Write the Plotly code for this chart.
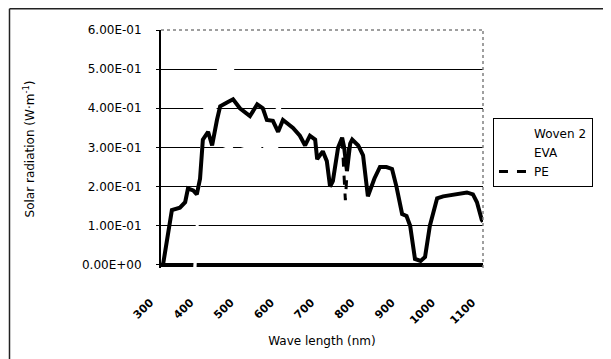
import plotly.graph_objects as go

# ---- data ----
pe_x = [300, 305, 327, 347, 360, 367, 380, 389, 397, 404, 417, 427, 439, 447, 464, 479,
        496, 521, 539, 553, 563, 578, 591, 603, 628, 645, 658, 670, 683, 688, 702, 712,
        720, 727, 740, 750, 755, 762, 770, 775, 790, 802, 814, 830, 844, 860, 874, 885,
        899, 910, 919, 931, 945, 956, 968, 986, 1001, 1020, 1035, 1060, 1075, 1085, 1097, 1100]
pe_y = [0.0, 0.0, 0.14, 0.146, 0.16, 0.195, 0.19, 0.18, 0.22, 0.32, 0.34, 0.305, 0.37, 0.405,
        0.415, 0.423, 0.40, 0.38, 0.41, 0.40, 0.37, 0.368, 0.34, 0.37, 0.35, 0.33, 0.305,
        0.33, 0.32, 0.27, 0.29, 0.265, 0.20, 0.214, 0.30, 0.325, 0.30, 0.24, 0.31, 0.32,
        0.305, 0.28, 0.175, 0.22, 0.25, 0.25, 0.245, 0.20, 0.13, 0.125, 0.10, 0.015, 0.01,
        0.02, 0.10, 0.17, 0.175, 0.178, 0.18, 0.185, 0.18, 0.16, 0.115, 0.11]
pe_dip_x = [750, 758, 766]
pe_dip_y = [0.32, 0.165, 0.30]

woven2_x = [385, 392, 400, 408, 420, 435, 442, 455, 465, 478, 482, 520, 560, 588, 595, 600]
woven2_y = [-0.01, 0.15, 0.30, 0.40, 0.401, 0.399, 0.50, 0.501, 0.499, 0.50, 0.49, 0.46,
            0.43, 0.401, 0.399, 0.39]

eva_x = [383, 395, 405, 440, 466, 475, 480, 513, 530, 546, 550, 558, 575, 588, 592, 600]
eva_y = [-0.01, 0.20, 0.29, 0.29, 0.30, 0.301, 0.29, 0.30, 0.301, 0.30, 0.29, 0.30, 0.301,
         0.30, 0.29, 0.28]

y_ticks = [0.0, 0.1, 0.2, 0.3, 0.4, 0.5, 0.6]
y_labels = ["0.00E+00", "1.00E-01", "2.00E-01", "3.00E-01", "4.00E-01", "5.00E-01", "6.00E-01"]
x_ticks = [300, 400, 500, 600, 700, 800, 900, 1000, 1100]
x_labels = ["300", "400", "500", "600", "700", "800", "900", "1000", "1100"]

FONT = "DejaVu Sans"
pad = "\u00a0" * 4

fig = go.Figure()
fig.add_trace(go.Scatter(x=woven2_x, y=woven2_y, mode="lines", name="Woven 2",
                         line=dict(color="white", width=2.5)))
fig.add_trace(go.Scatter(x=eva_x, y=eva_y, mode="lines", name="EVA",
                         line=dict(color="white", width=2.5)))
fig.add_trace(go.Scatter(x=pe_x, y=pe_y, mode="lines", name="PE", showlegend=False,
                         legendgroup="pe", line=dict(color="black", width=4)))
fig.add_trace(go.Scatter(x=pe_dip_x, y=pe_dip_y, mode="lines", name="PE",
                         legendgroup="pe", line=dict(color="black", width=3, dash="dash")))

# page body has an 8px margin, so the figure is offset by (8, 8)
fig.update_layout(
    width=603, height=351,
    margin=dict(l=153, r=128, t=22, b=91, autoexpand=False),
    paper_bgcolor="white", plot_bgcolor="white",
    font=dict(family=FONT, size=12, color="black"),
    showlegend=True,
    legend=dict(x=1.031, y=0.63, xanchor="left", yanchor="top",
                bordercolor="black", borderwidth=1, bgcolor="white",
                font=dict(family=FONT, size=12), tracegroupgap=0),
    xaxis=dict(range=[300, 1100], tickvals=x_ticks, automargin=False,
               ticktext=[t + pad for t in x_labels], tickangle=-45,
               tickfont=dict(family=FONT, size=11, weight="bold"),
               showgrid=False, zeroline=False, showline=False, ticks="",
               ticklabelstandoff=14,
               title=dict(text="Wave length (nm)", font=dict(family=FONT, size=12),
                          standoff=10)),
    yaxis=dict(range=[-0.008, 0.6], tickvals=y_ticks, ticktext=y_labels, automargin=False,
               showgrid=True, gridcolor="black", gridwidth=1,
               zeroline=True, zerolinecolor="black", zerolinewidth=4,
               showline=True, linecolor="black", linewidth=2,
               ticks="outside", ticklen=3, tickcolor="black",
               ticklabelstandoff=12,
               tickfont=dict(family=FONT, size=12),
               title=dict(text="Solar radiation (W·m<sup>-1</sup>)",
                          font=dict(family=FONT, size=12), standoff=45)),
    shapes=[
        dict(type="line", xref="paper", yref="paper", x0=0, x1=1, y0=1, y1=1,
             line=dict(color="gray", width=1.5, dash="dot")),
        dict(type="line", xref="paper", yref="paper", x0=1, x1=1, y0=0, y1=1,
             line=dict(color="gray", width=1.5, dash="dot")),
        # outer chart-area frame (top and left edges)
        dict(type="line", xref="paper", yref="paper", x0=-0.4705, x1=1.4, y0=1.0893, y1=1.0893,
             line=dict(color="#222222", width=1.5)),
        dict(type="line", xref="paper", yref="paper", x0=-0.4705, x1=-0.4705, y0=-0.4, y1=1.0893,
             line=dict(color="#222222", width=1.5)),
    ],
)

fig.write_html("out.html")
